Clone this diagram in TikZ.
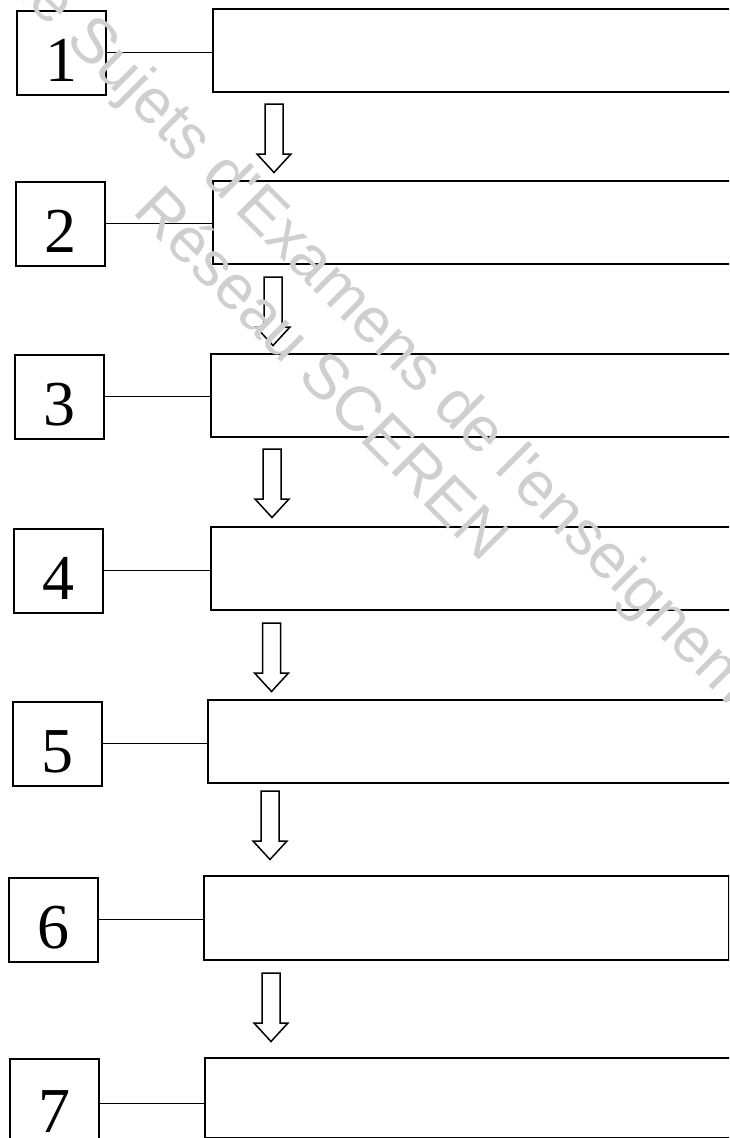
\documentclass[tikz,border=0pt]{standalone}
\usepackage{fontspec}
\setmainfont{Liberation Serif}
\newfontfamily\wmfont{Liberation Sans}
\begin{document}
\begin{tikzpicture}[x=1pt,y=-1pt,
  numbox/.style={draw, line width=1.6pt, minimum width=89pt, minimum height=84pt,
    inner sep=0pt, anchor=north west, font=\fontsize{64}{64}\selectfont,
    text height=57pt, text depth=0pt},
  blankbox/.style={draw, line width=1.6pt, minimum height=83pt, minimum width=560pt,
    inner sep=0pt, anchor=north west},
  conn/.style={line width=1.3pt},
  blockarrow/.style={draw, line width=1.5pt, fill=white, line join=miter},
  downarrow/.pic={\draw[blockarrow] (-9,0) -- (9,0) -- (9,50) -- (17,50) -- (0,68.5)
      -- (-17,50) -- (-9,50) -- cycle;},
  wm/.style={font=\wmfont\fontsize{63}{63}\selectfont, text=black!19, rotate=-45,
    inner sep=0pt, anchor=base west}
]
\useasboundingbox (0,0) rectangle (729,1138);
\clip (0,0) rectangle (729,1138);
\fill[white] (0,0) rectangle (729,1138);

% numbered boxes
\node[numbox] (l1) at (16,10) {1};
\node[numbox] (l2) at (15,181) {2};
\node[numbox] (l3) at (14,354) {3};
\node[numbox] (l4) at (13,528) {4};
\node[numbox] (l5) at (12,701) {5};
\node[numbox] (l6) at (8,877) {6};
\node[numbox, minimum height=90pt] (l7) at (9,1058) {7};

% blank boxes
\node[blankbox] (r1) at (212,8) {};
\node[blankbox] (r2) at (212,180) {};
\node[blankbox] (r3) at (210,353) {};
\node[blankbox] (r4) at (210,526) {};
\node[blankbox] (r5) at (207,699) {};
\node[blankbox, minimum width=525pt, minimum height=84pt] (r6) at (203,875) {};
\node[blankbox, minimum height=80pt] (r7) at (204,1057) {};

% connectors
\foreach \i in {1,...,7} {
  \draw[conn] (l\i.east) -- (l\i.east -| r\i.west);
}

% block arrows
\pic at (274,104) {downarrow};
\pic at (273,277) {downarrow};
\pic at (272,449) {downarrow};
\pic at (271.5,623) {downarrow};
\pic at (270,791) {downarrow};
\pic at (271,973) {downarrow};

% watermark
\node[wm] (wm1) at (2,-21) {de Sujets d'Examens de l'enseignement};
\node[wm] (wm2) at (131,212) {Réseau SCEREN};
\end{tikzpicture}
\end{document}
